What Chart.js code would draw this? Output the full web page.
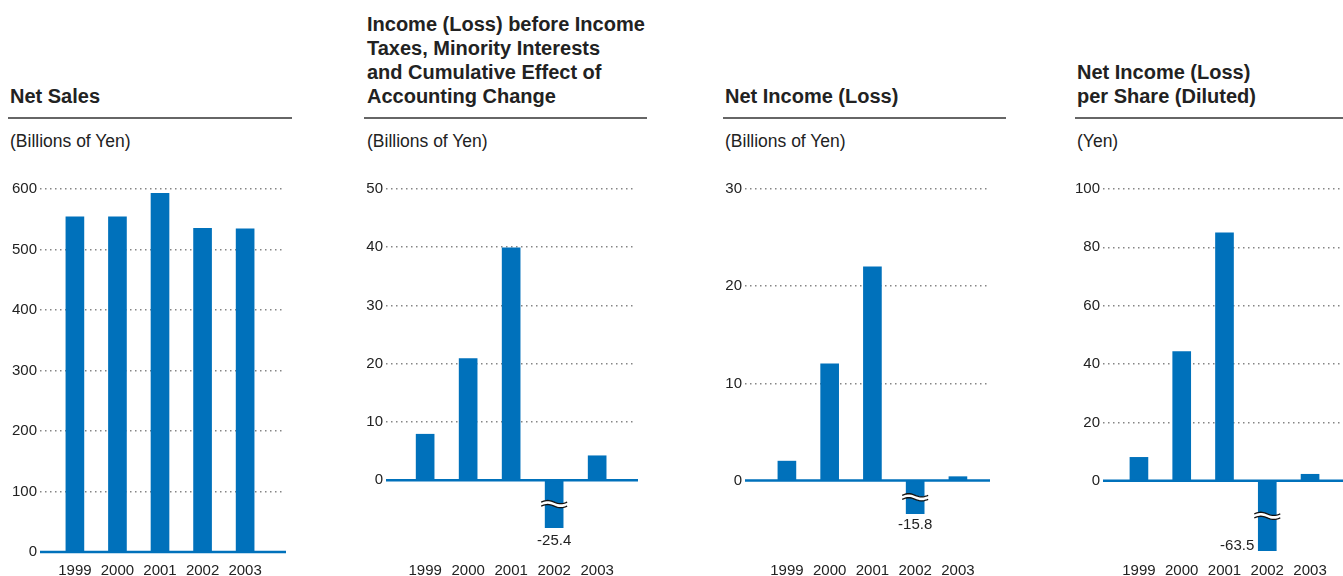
<!DOCTYPE html>
<html>
<head>
<meta charset="utf-8">
<script src="https://cdn.jsdelivr.net/npm/chart.js@4"></script>
<style>
  html, body { margin: 0; padding: 0; background: #fff; overflow: hidden; }
  body { width: 1343px; height: 576px; position: relative; font-family: "Liberation Sans", Arial, sans-serif; color: #222; }
  .title { position: absolute; top: 0; height: 108px; display: flex; flex-direction: column; justify-content: flex-end;
           font-weight: bold; font-size: 20px; line-height: 24px; padding-left: 2px; }
  .rule { position: absolute; top: 117px; height: 1.5px; background: #666; }
  .unit { position: absolute; top: 131px; font-size: 17.5px; line-height: 20px; padding-left: 2px; }
  canvas { position: absolute; top: 160px; }
</style>
</head>
<body>
<div class="title" style="left:8px;width:284px">Net Sales</div>
<div class="rule" style="left:8px;width:284px"></div>
<div class="unit" style="left:8px">(Billions of Yen)</div>

<div class="title" style="left:365px;width:283px">Income (Loss) before Income<br>Taxes, Minority Interests<br>and Cumulative Effect of<br>Accounting Change</div>
<div class="rule" style="left:364px;width:283px"></div>
<div class="unit" style="left:365px">(Billions of Yen)</div>

<div class="title" style="left:723px;width:283px">Net Income (Loss)</div>
<div class="rule" style="left:723px;width:283px"></div>
<div class="unit" style="left:723px">(Billions of Yen)</div>

<div class="title" style="left:1075px;width:283px">Net Income (Loss)<br>per Share (Diluted)</div>
<div class="rule" style="left:1075px;width:283px"></div>
<div class="unit" style="left:1075px">(Yen)</div>

<canvas id="c1"></canvas>
<canvas id="c2"></canvas>
<canvas id="c3"></canvas>
<canvas id="c4"></canvas>

<script>
const years = ['1999', '2000', '2001', '2002', '2003'];

const netSales = [554, 554, 593, 535, 534];
const pretaxIncome = [7.9, 20.9, 39.9, -25.4, 4.2];
const netIncome = [2.0, 12.0, 22.0, -15.8, 0.4];
const epsDiluted = [8.0, 44.3, 85.0, -63.5, 2.2];

const salesTicks = [0, 100, 200, 300, 400, 500, 600];
const pretaxTicks = [0, 10, 20, 30, 40, 50];
const netTicks = [0, 10, 20, 30];
const epsTicks = [0, 20, 40, 60, 80, 100];

const BLUE = '#0071bb';
Chart.defaults.font.family = '"Liberation Sans", Arial, sans-serif';
Chart.defaults.color = '#222';

// zero line, broken bars and their value labels
const extrasPlugin = {
    id: 'extras',
    afterDatasetsDraw(chart, args, opts) {
        const ctx = chart.ctx;
        const area = chart.chartArea;
        const yScale = chart.scales.y;
        const y0 = yScale.getPixelForValue(0);
        const values = chart.data.datasets[0].values;

        ctx.save();
        ctx.strokeStyle = BLUE;
        ctx.lineWidth = 2.5;
        ctx.beginPath();
        ctx.moveTo(area.left, y0);
        ctx.lineTo(area.right + 3, y0);
        ctx.stroke();

        const meta = chart.getDatasetMeta(0);
        values.forEach((v, i) => {
            if (v >= yScale.min) return;
            const bar = meta.data[i];
            const half = bar.width / 2;
            const yMid = (y0 + area.bottom) / 2;
            const x0 = bar.x - half - 4;
            const x1 = bar.x + half + 4;
            const wave = (off) => {
                const pts = [];
                for (let k = 0; k <= 20; k++) {
                    const t = k / 20;
                    pts.push([x0 + (x1 - x0) * t, yMid + off - 1.6 * Math.sin(t * Math.PI * 2)]);
                }
                return pts;
            };
            const top = wave(-2);
            const bot = wave(2);
            ctx.fillStyle = '#fff';
            ctx.beginPath();
            top.forEach((p, k) => k ? ctx.lineTo(p[0], p[1]) : ctx.moveTo(p[0], p[1]));
            bot.slice().reverse().forEach(p => ctx.lineTo(p[0], p[1]));
            ctx.closePath();
            ctx.fill();
            ctx.strokeStyle = '#111';
            ctx.lineWidth = 1.3;
            [top, bot].forEach(pts => {
                ctx.beginPath();
                pts.forEach((p, k) => k ? ctx.lineTo(p[0], p[1]) : ctx.moveTo(p[0], p[1]));
                ctx.stroke();
            });

            ctx.fillStyle = '#222';
            ctx.font = '15px "Liberation Sans", Arial, sans-serif';
            ctx.textBaseline = 'middle';
            if (opts.labelPos === 'left') {
                ctx.textAlign = 'right';
                ctx.fillText(v.toFixed(1), bar.x - half - 4, area.bottom - 5);
            } else {
                ctx.textAlign = 'center';
                ctx.fillText(v.toFixed(1), bar.x, area.bottom + opts.labelGap);
            }
        });
        ctx.restore();
    }
};

function makeChart(id, cfg) {
    const canvas = document.getElementById(id);
    canvas.style.left = cfg.left + 'px';
    canvas.width = cfg.gridEnd + 8 - cfg.left;
    canvas.height = 420;

    return new Chart(canvas.getContext('2d'), {
        type: 'bar',
        data: {
            datasets: [{
                data: cfg.values.map((v, i) => ({ x: i, y: v })),
                values: cfg.values,
                backgroundColor: BLUE,
                barThickness: 18
            }]
        },
        options: {
            responsive: false,
            animation: false,
            layout: { padding: { top: 29, right: 8, left: 0, bottom: 0 } },
            plugins: {
                legend: { display: false },
                tooltip: { enabled: false },
                extras: { labelPos: cfg.labelPos || 'below', labelGap: cfg.labelGap || 13 }
            },
            scales: {
                x: {
                    type: 'linear',
                    offset: false,
                    min: cfg.xMin,
                    max: cfg.xMax,
                    grid: { display: false, offset: false },
                    border: { display: false },
                    afterBuildTicks: scale => { scale.ticks = years.map((y, i) => ({ value: i })); },
                    afterFit: scale => {
                        scale.height = 580 - cfg.bottom;
                        scale.paddingLeft = 0;
                        scale.paddingRight = 0;
                    },
                    ticks: {
                        autoSkip: false,
                        maxRotation: 0,
                        padding: 554 - cfg.bottom,
                        font: { size: 15 },
                        callback: v => years[v]
                    }
                },
                y: {
                    min: cfg.yMin,
                    max: cfg.yMax,
                    afterBuildTicks: scale => { scale.ticks = cfg.ticks.map(v => ({ value: v })); },
                    afterFit: scale => { scale.width = cfg.yWidth; },
                    grid: {
                        drawTicks: false,
                        lineWidth: 1.5,
                        color: c => (c.tick && c.tick.value === 0) ? 'rgba(0,0,0,0)' : '#858585'
                    },
                    border: { display: false, dash: [1.5, 3.5] },
                    ticks: { padding: 3, font: { size: 15 } }
                }
            }
        },
        plugins: [extrasPlugin]
    });
}

makeChart('c1', { left: 8, yWidth: 32, gridEnd: 283, xMin: -0.82, xMax: 4.89,
    yMin: 0, yMax: 600, bottom: 552, values: netSales, ticks: salesTicks });
makeChart('c2', { left: 364, yWidth: 22, gridEnd: 635, xMin: -0.91, xMax: 4.88,
    yMin: -8.2, yMax: 50, bottom: 528, values: pretaxIncome, ticks: pretaxTicks, labelGap: 13 });
makeChart('c3', { left: 722, yWidth: 23, gridEnd: 987, xMin: -0.98, xMax: 4.68,
    yMin: -3.44, yMax: 30, bottom: 514, values: netIncome, ticks: netTicks, labelGap: 11 });
makeChart('c4', { left: 1073, yWidth: 30, gridEnd: 1340, xMin: -0.84, xMax: 4.7,
    yMin: -24.1, yMax: 100, bottom: 551, values: epsDiluted, ticks: epsTicks, labelPos: 'left' });
</script>
</body>
</html>
